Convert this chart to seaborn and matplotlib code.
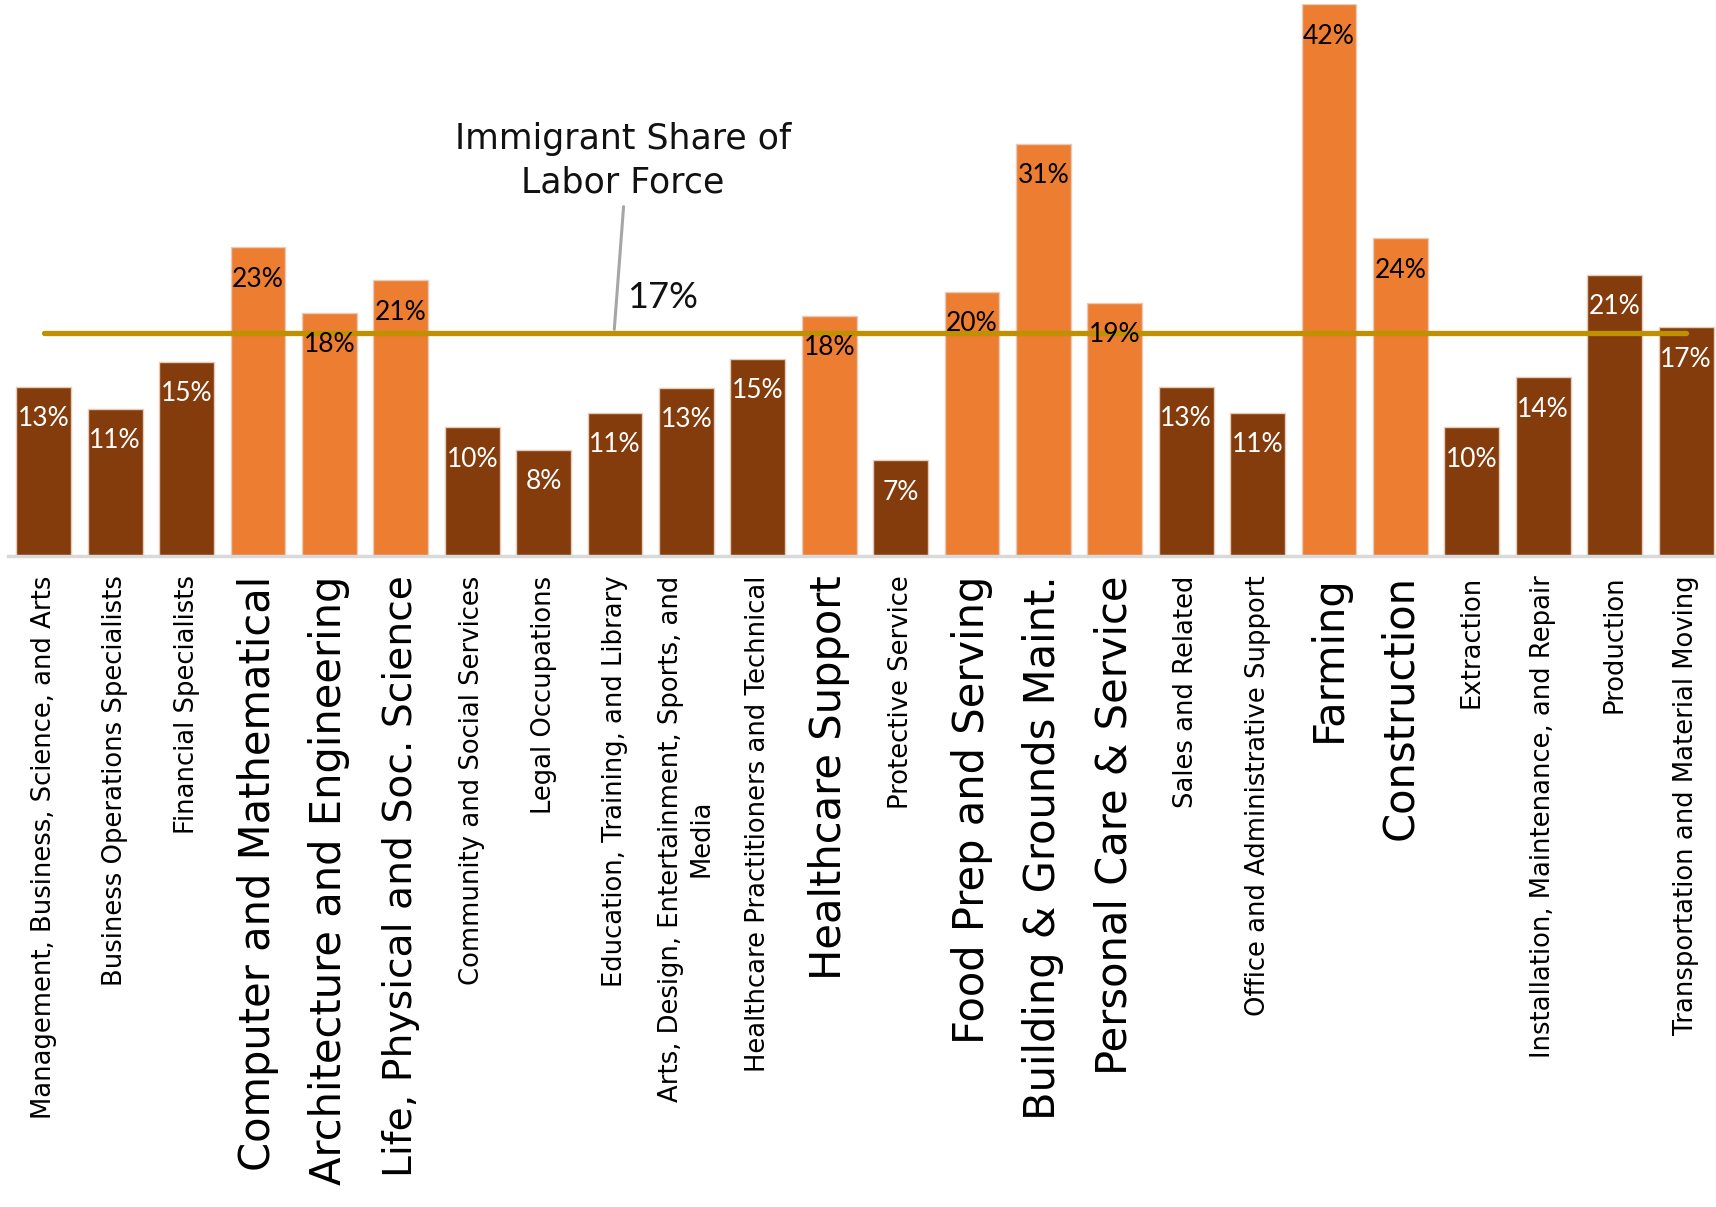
import matplotlib
matplotlib.use("Agg")
import matplotlib.pyplot as plt
import seaborn as sns
import pandas as pd

categories = [
    "Management, Business, Science, and Arts",
    "Business Operations Specialists",
    "Financial Specialists",
    "Computer and Mathematical",
    "Architecture and Engineering",
    "Life, Physical and Soc. Science",
    "Community and Social Services",
    "Legal Occupations",
    "Education, Training, and Library",
    "Arts, Design, Entertainment, Sports, and\nMedia",
    "Healthcare Practitioners and Technical",
    "Healthcare Support",
    "Protective Service",
    "Food Prep and Serving",
    "Building & Grounds Maint.",
    "Personal Care & Service",
    "Sales and Related",
    "Office and Administrative Support",
    "Farming",
    "Construction",
    "Extraction",
    "Installation, Maintenance, and Repair",
    "Production",
    "Transportation and Material Moving",
]
values = [12.9, 11.2, 14.8, 23.5, 18.5, 21.0, 9.8, 8.1, 10.9, 12.8, 15.0, 18.3,
          7.3, 20.1, 31.4, 19.3, 12.9, 10.9, 42.0, 24.2, 9.8, 13.6, 21.4, 17.4]
value_labels = ["13%", "11%", "15%", "23%", "18%", "21%", "10%", "8%", "11%", "13%",
                "15%", "18%", "7%", "20%", "31%", "19%", "13%", "11%", "42%", "24%",
                "10%", "14%", "21%", "17%"]
highlighted = [False, False, False, True, True, True, False, False, False, False,
               False, True, False, True, True, True, False, False, True, True,
               False, False, False, False]
labor_force_share = 17
annotation_title = "Immigrant Share of\nLabor Force"
annotation_value = "17%"

DARK = "#843C0C"
ORANGE = "#ED7D31"
GOLD = "#BF9000"

sns.set_style("white")
plt.rcParams["font.family"] = ["DejaVu Sans"]
NUM_FONT = ["Lato", "DejaVu Sans"]

df = pd.DataFrame({"category": categories, "value": values})
palette = [ORANGE if h else DARK for h in highlighted]

fig = plt.figure(figsize=(17.16, 12.07), dpi=100)
ax = fig.add_axes([8.1 / 1716, 1 - 556 / 1207, 1 - 8.1 / 1716, (556 - 4.4) / 1207])

sns.barplot(data=df, x="category", y="value", hue="category", palette=palette,
            width=0.77, legend=False, ax=ax, edgecolor="#E6CBB8", linewidth=1.0,
            saturation=1)

ax.set_xlim(-0.5, 23.42)
ax.set_ylim(0, 42)

# average line
ax.plot([0, len(categories) - 1], [labor_force_share] * 2, color=GOLD, lw=3.8,
        solid_capstyle="round", zorder=3)

# leader line and annotation
ax.plot([8.12, 7.99], [26.6, 17.25], color="#A6A6A6", lw=2.2, zorder=3)
ax.text(8.11, 30.1, annotation_title, ha="center", va="center", fontsize=25,
        linespacing=1.35, color="#111111", zorder=4)
ax.text(8.67, 19.7, annotation_value, ha="center", va="center", fontsize=26,
        color="#111111", zorder=4, family=NUM_FONT)

# value labels
for i, (v, lab, h) in enumerate(zip(values, value_labels, highlighted)):
    ax.annotate(lab, (i, v), xytext=(0, -23), textcoords="offset points",
                ha="center", va="center", fontsize=19, family=NUM_FONT,
                color="black" if h else "white", zorder=5)

# axes styling
for s in ["left", "top", "right"]:
    ax.spines[s].set_visible(False)
ax.spines["bottom"].set_color("#D9D9D9")
ax.spines["bottom"].set_linewidth(2.5)
ax.set_yticks([])
ax.set_xlabel("")
ax.set_ylabel("")
ax.set_xticks(range(len(categories)))
ax.set_xticklabels(categories, rotation=90, ha="center", va="top",
                   multialignment="center")
ax.tick_params(axis="x", length=0, pad=14)
for lbl, h in zip(ax.get_xticklabels(), highlighted):
    if h:
        lbl.set_fontsize(28.3 if lbl.get_text().startswith("Life") else 30)
    else:
        lbl.set_fontsize(18.6)
    lbl.set_color("black")

fig.savefig("out.png", dpi=100)
